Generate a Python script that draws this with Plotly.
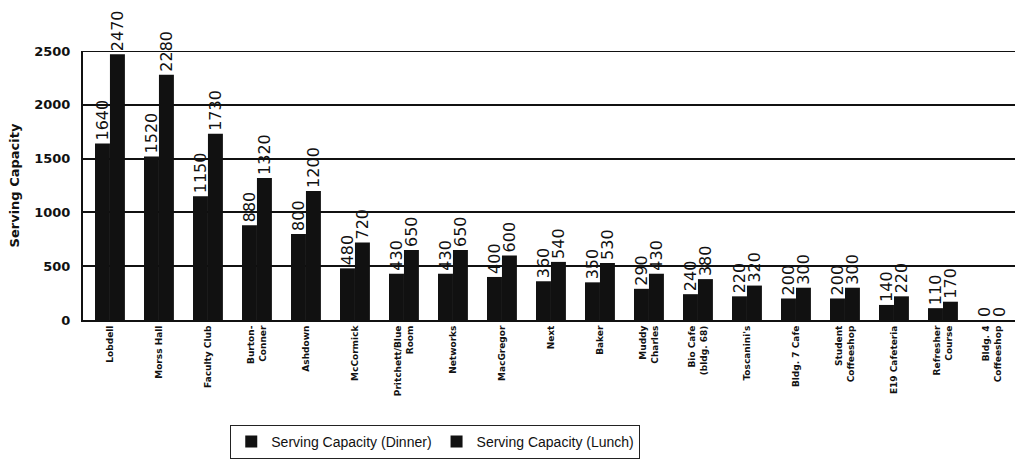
import plotly.graph_objects as go

categories = ["Lobdell", "Morss Hall", "Faculty Club", "Burton-<br>Conner", "Ashdown",
              "McCormick", "Pritchett/Blue<br>Room", "Networks", "MacGregor", "Next",
              "Baker", "Muddy<br>Charles", "Bio Cafe<br>(bldg. 68)", "Toscanini's",
              "Bldg. 7 Cafe", "Student<br>Coffeeshop", "E19 Cafeteria", "Refresher<br>Course",
              "Bldg. 4<br>Coffeeshop"]
dinner = [1640, 1520, 1150, 880, 800, 480, 430, 430, 400, 360, 350, 290, 240, 220, 200, 200, 140, 110, 0]
lunch = [2470, 2280, 1730, 1320, 1200, 720, 650, 650, 600, 540, 530, 430, 380, 320, 300, 300, 220, 170, 0]
y_ticks = [0, 500, 1000, 1500, 2000, 2500]

fig = go.Figure()
for name, vals in [("Serving Capacity (Dinner)", dinner), ("Serving Capacity (Lunch)", lunch)]:
    fig.add_trace(go.Bar(
        x=list(range(len(categories))), y=vals, name=name,
        marker=dict(color="#111111", line=dict(width=0)),
        text=[str(v) for v in vals], textposition="outside", textangle=-90,
        constraintext="none", cliponaxis=False,
        textfont=dict(family="DejaVu Sans", size=16, color="#111111"),
    ))

fig.update_layout(
    width=1015, height=459,
    margin=dict(l=83, r=0, t=51, b=139),
    paper_bgcolor="white", plot_bgcolor="white",
    barmode="group", bargap=0.39, bargroupgap=0,
    showlegend=True,
    legend=dict(orientation="h", x=0.158, y=-0.39, xanchor="left", yanchor="top",
                bordercolor="#222222", borderwidth=1,
                font=dict(family="Liberation Sans", size=14, color="#111111"),
                itemsizing="constant", traceorder="normal", itemwidth=30),
    font=dict(family="Liberation Sans", color="#111111"),
)
fig.update_yaxes(
    range=[0, 2500], tickvals=y_ticks, ticktext=[str(t) for t in y_ticks],
    showgrid=True, gridcolor="#111111", gridwidth=1.5,
    showline=True, linecolor="#111111", linewidth=2, zeroline=False,
    ticks="", ticklabelstandoff=8,
    tickfont=dict(family="DejaVu Sans", size=13, color="#111111", weight="bold"),
    title=dict(text="Serving Capacity", font=dict(family="DejaVu Sans", size=13, color="#111111", weight="bold"),
               standoff=12),
)
fig.update_xaxes(
    range=[-0.55, 18.47], tickmode="array",
    tickvals=list(range(len(categories))), ticktext=categories,
    tickangle=-90, showline=True, linecolor="#111111", linewidth=2, ticks="",
    tickfont=dict(family="DejaVu Sans", size=9, color="#111111", weight="bold"),
)
fig.add_shape(type="line", xref="paper", yref="y", x0=0, x1=1, y0=2500, y1=2500,
              line=dict(color="#111111", width=2))

fig.write_html("out.html")
